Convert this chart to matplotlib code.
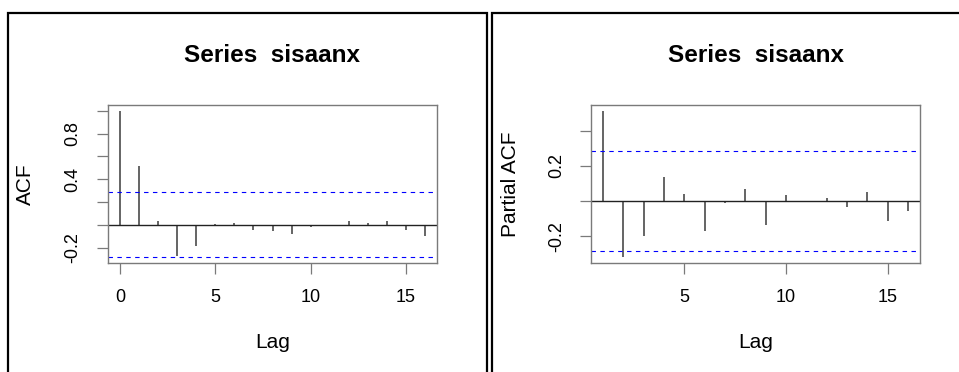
import numpy as np
import matplotlib
matplotlib.use("Agg")
import matplotlib.pyplot as plt
from matplotlib.patches import Rectangle

plt.rcParams['font.family'] = ['Liberation Sans', 'DejaVu Sans']

title = "Series  sisaanx"
acf_lags = [0, 1, 2, 3, 4, 5, 6, 7, 8, 9, 10, 11, 12, 13, 14, 15, 16]
acf_vals = [1.0, 0.514, 0.029, -0.276, -0.185, 0.008, 0.02, -0.044, -0.056,
            -0.082, -0.02, -0.009, 0.029, 0.02, 0.032, -0.047, -0.1]
pacf_lags = [1, 2, 3, 4, 5, 6, 7, 8, 9, 10, 11, 12, 13, 14, 15, 16]
pacf_vals = [0.514, -0.319, -0.196, 0.136, 0.04, -0.172, -0.008, 0.07, -0.138,
             0.034, -0.006, 0.015, -0.032, 0.051, -0.111, -0.055]
ci = 0.284

acf_yticks = [-0.2, 0.0, 0.2, 0.4, 0.6, 0.8, 1.0]
acf_ylabels = ["-0.2", "", "", "0.4", "", "0.8", ""]
pacf_yticks = [-0.2, 0.0, 0.2, 0.4]
pacf_ylabels = ["-0.2", "", "0.2", ""]
acf_xticks = [0, 5, 10, 15]
pacf_xticks = [5, 10, 15]

W, H = 959, 372
fig = plt.figure(figsize=(W / 100, H / 100), dpi=100)

# panel frames
fig.patches.append(Rectangle((8 / W, -0.05), (487 - 8) / W, 1.05 - 12.5 / H,
                             transform=fig.transFigure, fill=False,
                             edgecolor='black', linewidth=1.6))
fig.patches.append(Rectangle((491.5 / W, -0.05), 0.6, 1.05 - 12.5 / H,
                             transform=fig.transFigure, fill=False,
                             edgecolor='black', linewidth=1.6))

box_col = '#7a7a7a'
tick_fs = 13
lab_fs = 15


def panel(rect, lags, vals, ylab, yticks, ylabels, xticks, ylab_x):
    ax = fig.add_axes(rect)
    lags = np.asarray(lags)
    vals = np.asarray(vals)
    ax.vlines(lags, 0, vals, color='#3a3a3a', linewidth=1.1)
    ax.axhline(0, color='#222222', linewidth=1.0)
    ax.axhline(ci, color='blue', linewidth=0.8, linestyle=(0, (4, 4)))
    ax.axhline(-ci, color='blue', linewidth=0.8, linestyle=(0, (4, 4)))
    xlo, xhi = lags.min(), lags.max()
    xp = 0.04 * (xhi - xlo)
    ax.set_xlim(xlo - xp, xhi + xp)
    ylo = min(vals.min(), -ci)
    yhi = max(vals.max(), ci)
    yp = 0.04 * (yhi - ylo)
    ax.set_ylim(ylo - yp, yhi + yp)
    ax.set_yticks(yticks)
    ax.set_yticklabels(ylabels, rotation=90, va='center', fontsize=tick_fs)
    ax.set_xticks(xticks)
    ax.set_xticklabels([str(t) for t in xticks], fontsize=tick_fs)
    ax.tick_params(direction='out', length=7.9, width=0.9, color=box_col,
                   pad=11)
    for s in ax.spines.values():
        s.set_color(box_col)
        s.set_linewidth(1.0)
    ax.set_xlabel("Lag", fontsize=lab_fs, va='center')
    ax.xaxis.set_label_coords(0.5, -0.506)
    ax.set_ylabel(ylab, fontsize=lab_fs, va='center')
    ax.yaxis.set_label_coords(ylab_x, 0.5)
    ax.text(0.5, 1.316, title, transform=ax.transAxes, ha='center',
            va='center', fontsize=17.5, fontweight='bold')
    return ax


bottom = 1 - 263 / H
height = 158 / H
panel([108 / W, bottom, 329 / W, height], acf_lags, acf_vals, "ACF",
      acf_yticks, acf_ylabels, acf_xticks, (25 - 108) / 329)
panel([591 / W, bottom, 329 / W, height], pacf_lags, pacf_vals, "Partial ACF",
      pacf_yticks, pacf_ylabels, pacf_xticks, (510 - 591) / 329)

fig.savefig("out.png", dpi=100)
